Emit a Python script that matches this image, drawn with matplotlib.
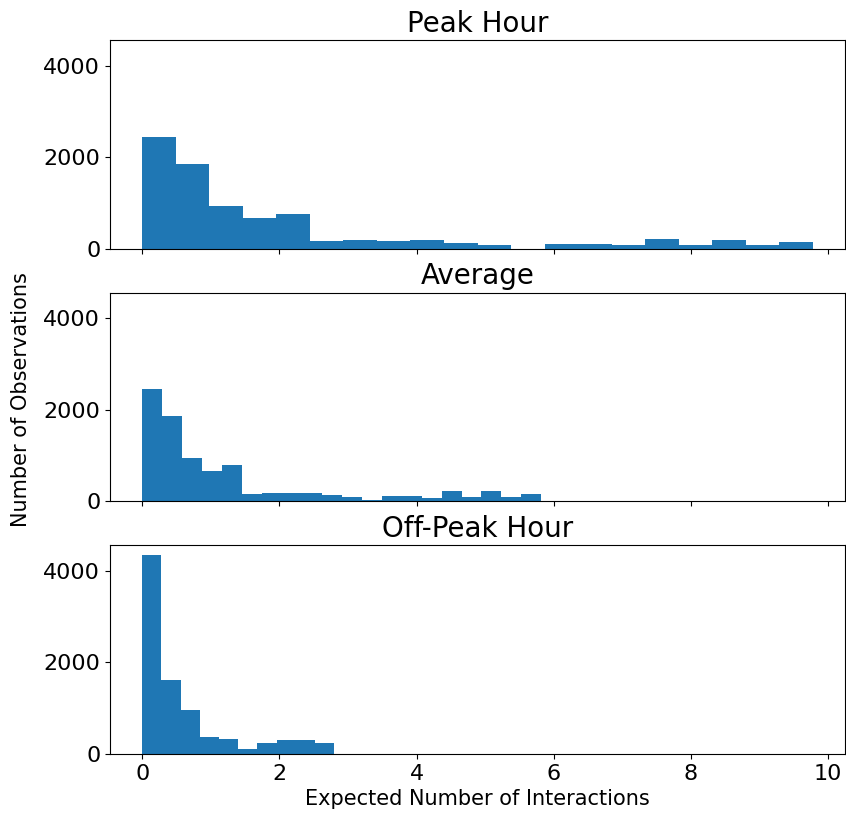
import numpy as np
import matplotlib
matplotlib.use("Agg")
import matplotlib.pyplot as plt

# Histogram counts per bin, bins spanning 0 .. max expected interactions
peak_counts = [2450, 1850, 945, 665, 760, 165, 195, 165, 195, 115,
               87, 0, 94, 94, 72, 210, 72, 188, 72, 137]
peak_max = 9.78

avg_counts = [2460, 1870, 942, 669, 784, 165, 187, 187, 187, 144,
              100, 22, 122, 122, 80, 237, 100, 216, 100, 165]
avg_max = 5.82

off_counts = [4345, 1617, 953, 361, 325, 116, 238, 303, 303, 238]
off_max = 2.80

titles = ["Peak Hour", "Average", "Off-Peak Hour"]
series = [(peak_counts, peak_max), (avg_counts, avg_max), (off_counts, off_max)]

fig, axes = plt.subplots(3, 1, figsize=(8.46, 8.16), dpi=100, sharex=True, sharey=True)
fig.subplots_adjust(left=0.130, right=0.999, top=0.951, bottom=0.076, hspace=0.21)

for ax, title, (counts, vmax) in zip(axes, titles, series):
    edges = np.linspace(0, vmax, len(counts) + 1)
    ax.stairs(counts, edges, fill=True, color="#1f77b4")
    ax.set_title(title, fontsize=20)
    ax.tick_params(labelsize=16)
    ax.set_yticks([0, 2000, 4000])

axes[0].set_ylim(0, 4562)
axes[0].set_xlim(-0.47, 10.25)
axes[-1].set_xticks([0, 2, 4, 6, 8, 10])
axes[-1].set_xlabel("Expected Number of Interactions", fontsize=15)
fig.text(0.025, 0.51, "Number of Observations", rotation=90, fontsize=15,
         ha="center", va="center")

plt.savefig("out.png")
